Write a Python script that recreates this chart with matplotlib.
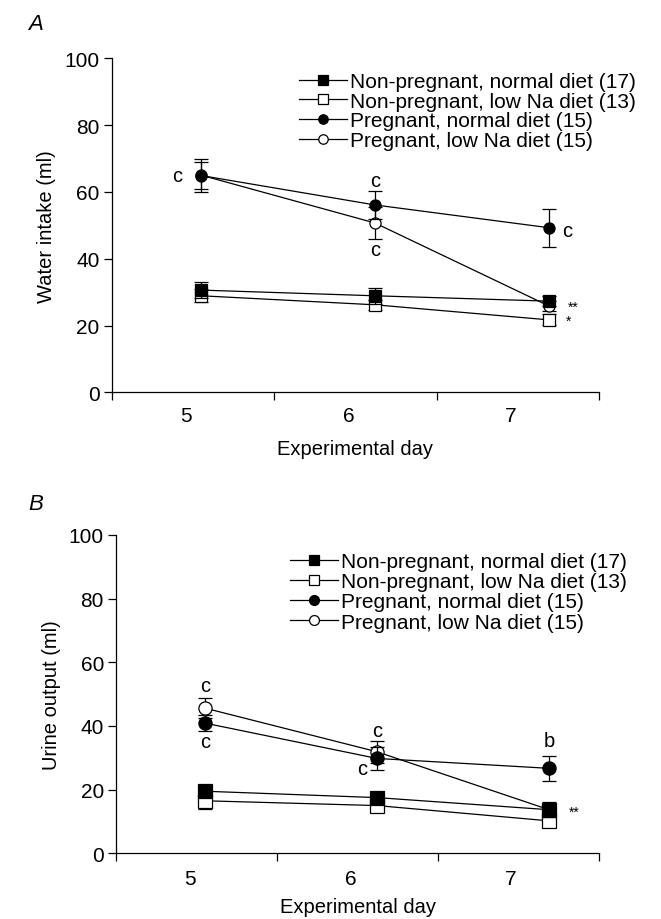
import matplotlib
matplotlib.use("Agg")
import matplotlib.pyplot as plt

plt.rcParams['font.family'] = ['Liberation Sans', 'DejaVu Sans']

days = [5, 6, 7]
labels = ["Non-pregnant, normal diet (17)", "Non-pregnant, low Na diet (13)",
          "Pregnant, normal diet (15)", "Pregnant, low Na diet (15)"]

# Panel A: water intake (ml)
water_np_normal = [30.6, 28.9, 27.3]
water_np_lowna = [28.9, 26.2, 21.7]
water_p_normal = [64.9, 56.1, 49.3]
water_p_lowna = [65.0, 50.7, 25.9]
water_np_normal_se = [2.5, 2.4, 1.6]
water_np_lowna_se = [2.0, 1.5, 1.6]
water_p_normal_se = [5.0, 4.1, 5.7]
water_p_lowna_se = [4.0, 4.8, 1.5]

# Panel B: urine output (ml)
urine_np_normal = [19.5, 17.5, 13.7]
urine_np_lowna = [16.5, 15.0, 10.2]
urine_p_normal = [40.9, 29.8, 26.7]
urine_p_lowna = [45.6, 31.9, 13.7]
urine_np_normal_se = [1.7, 1.9, 2.3]
urine_np_lowna_se = [2.6, 1.2, 1.2]
urine_p_normal_se = [2.6, 3.5, 4.0]
urine_p_lowna_se = [3.1, 3.5, 1.5]

# significance labels: (x, y, text)
annot_A = [(4.863, 65.0, "c"), (6.0, 63.3, "c"), (6.0, 42.9, "c"), (7.11, 48.5, "c")]
stars_A = [(7.14, 25.5, "**"), (7.115, 21.4, "*")]
annot_B = [(5.0, 52.6, "c"), (5.0, 35.1, "c"), (6.0, 38.5, "c"), (5.915, 26.5, "c"), (7.004, 35.4, "b")]
stars_B = [(7.145, 12.9, "**")]

xtick_bounds = [4.485, 5.42, 6.355, 7.29]
xtick_label_pos = [4.912, 5.85, 6.78]
xtick_labels = ["5", "6", "7"]

FS = 15

fig = plt.figure(figsize=(6.61, 9.2), dpi=100)
axA = fig.add_axes([0.1694, 0.5725, 0.9060 - 0.1694, 0.9355 - 0.5725])
axB = fig.add_axes([0.1762, 0.0714, 0.9060 - 0.1762, 0.4174 - 0.0714])

styles = [dict(marker='s', mfc='black', z=4), dict(marker='s', mfc='white', z=3),
          dict(marker='o', mfc='black', z=5), dict(marker='o', mfc='white', z=2)]


def draw(ax, series, errs, ms, legend_kw, ylabel, annots, stars, xpad, xlpad):
    handles = []
    for vals, se, st, lab in zip(series, errs, styles, labels):
        h = ax.errorbar(days, vals, yerr=se, color='black', lw=0.9, elinewidth=0.9,
                        capsize=4.7, capthick=0.9, marker=st['marker'], mfc=st['mfc'],
                        mec='black', mew=0.9, ms=ms, label=lab, zorder=st['z'])
        handles.append(h)
    ax.set_xlim(xtick_bounds[0], xtick_bounds[-1])
    ax.set_ylim(0, 100)
    ax.set_yticks([0, 20, 40, 60, 80, 100])
    ax.set_xticks(xtick_bounds)
    ax.set_xticklabels([])
    ax.set_xticks(xtick_label_pos, minor=True)
    ax.set_xticklabels(xtick_labels, minor=True)
    ax.tick_params(axis='x', which='minor', length=0, pad=xpad, labelsize=FS)
    ax.tick_params(axis='x', which='major', direction='out', length=6, width=0.9)
    ax.tick_params(axis='y', direction='out', length=6, width=0.9, labelsize=FS, pad=3)
    for s in ['top', 'right']:
        ax.spines[s].set_visible(False)
    for s in ['left', 'bottom']:
        ax.spines[s].set_linewidth(0.9)
    ax.set_xlabel("Experimental day", fontsize=14.5, labelpad=xlpad)
    ax.set_ylabel(ylabel, fontsize=14.5, labelpad=6)
    for x, y, t in annots:
        ax.text(x, y, t, fontsize=14.5, ha='center', va='center')
    for x, y, t in stars:
        ax.text(x, y, t, fontsize=10, ha='center', va='center')
    hs = [h[0] for h in handles]
    fig.legend(hs, labels, frameon=False, fontsize=FS, loc='upper left',
               borderpad=0, borderaxespad=0, handlelength=2.3, handletextpad=0.15,
               **legend_kw)


draw(axA, [water_np_normal, water_np_lowna, water_p_normal, water_p_lowna],
     [water_np_normal_se, water_np_lowna_se, water_p_normal_se, water_p_lowna_se], 8,
     dict(bbox_to_anchor=(299 / 661, 1 - 73 / 920), markerscale=0.85, labelspacing=0.03),
     "Water intake (ml)", annot_A, stars_A, 10, 10)

draw(axB, [urine_np_normal, urine_np_lowna, urine_p_normal, urine_p_lowna],
     [urine_np_normal_se, urine_np_lowna_se, urine_p_normal_se, urine_p_lowna_se], 9.5,
     dict(bbox_to_anchor=(290 / 661, 1 - 553 / 920), markerscale=0.75, labelspacing=0.06),
     "Urine output (ml)", annot_B, stars_B, 11.5, 6)

fig.text(28 / 661, 1 - 25 / 920, "A", fontsize=16, style='italic', ha='left', va='center')
fig.text(28 / 661, 1 - 505 / 920, "B", fontsize=16, style='italic', ha='left', va='center')

fig.savefig("out.png", dpi=100)
